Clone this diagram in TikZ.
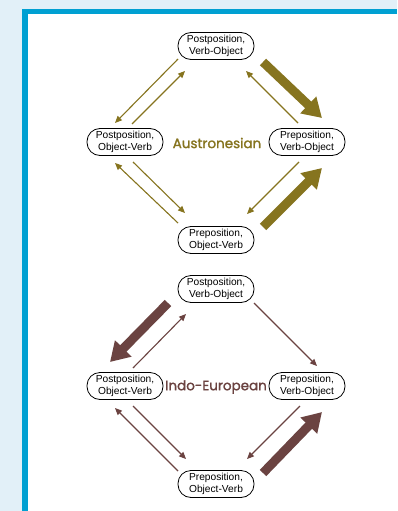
\documentclass[tikz,border=0pt]{standalone}
\usepackage{fontspec}
\setmainfont{Liberation Sans}
\newfontfamily\familyfont[FakeBold=1.5]{Poppins}
\usetikzlibrary{arrows.meta}

\definecolor{pageblue}{HTML}{E2F0F8}
\definecolor{frameblue}{HTML}{00A0D2}
\definecolor{austro}{HTML}{86741F}
\definecolor{indoeu}{HTML}{6B4341}

\tikzstyle{order}    = [draw=black, line width=0.8pt, fill=white, rounded corners=13pt, inner sep=0pt,
                        minimum width=76pt, minimum height=27pt, align=center,
                        font=\fontsize{10.2}{11.8}\selectfont]
\tikzstyle{family}   = [inner sep=0pt, font=\familyfont\fontsize{13.5}{15}\selectfont]
\tikzstyle{weak}     = [line width=1.1pt, -{Triangle[length=7pt,width=6pt]}]
\tikzstyle{strong}   = [line width=9pt, -{Triangle[length=19pt,width=22pt]}]

\begin{document}
\begin{tikzpicture}[x=1pt, y=-1pt]
  \useasboundingbox (0,0) rectangle (397,511);
  \fill[pageblue]  (0,0) rectangle (397,511);
  \fill[frameblue] (22,9) rectangle (397,511);
  \fill[white]     (28,14) rectangle (397,511);

  % Austronesian
  \node[order] (atop)   at (216,46)  {Postposition,\\Verb-Object};
  \node[order] (aleft)  at (125,142) {Postposition,\\Object-Verb};
  \node[order] (aright) at (307,142) {Preposition,\\Verb-Object};
  \node[order] (abot)   at (216,240) {Preposition,\\Object-Verb};
  \node[family, text=austro] (alabel) at (217,143) {Austronesian};

  \begin{scope}[draw=austro, color=austro]
    \draw[weak]   ([shift={(-38,13)}]atop.center)  -- ([shift={(-10,-19)}]aleft.center);
    \draw[weak]   ([shift={(7,-18)}]aleft.center)  -- ([shift={(-31,25)}]atop.center);
    \draw[strong] ([shift={(47,16)}]atop.center)   -- ([shift={(15,-24)}]aright.center);
    \draw[weak]   ([shift={(-9,-19)}]aright.center) -- ([shift={(30,25)}]atop.center);
    \draw[weak]   ([shift={(8,20)}]aleft.center)   -- ([shift={(-31,-27)}]abot.center);
    \draw[weak]   ([shift={(-38,-17)}]abot.center) -- ([shift={(-10,21)}]aleft.center);
    \draw[weak]   ([shift={(-8,20)}]aright.center) -- ([shift={(31,-26)}]abot.center);
    \draw[strong] ([shift={(47,-13)}]abot.center)  -- ([shift={(15,26)}]aright.center);
  \end{scope}

  % Indo-European
  \node[order] (itop)   at (216,289) {Postposition,\\Verb-Object};
  \node[order] (ileft)  at (125,386) {Postposition,\\Object-Verb};
  \node[order] (iright) at (307,386) {Preposition,\\Verb-Object};
  \node[order] (ibot)   at (216,484) {Preposition,\\Object-Verb};
  \node[family, text=indoeu] (ilabel) at (216,387) {Indo-European};

  \begin{scope}[draw=indoeu, color=indoeu]
    \draw[strong] ([shift={(-48,14)}]itop.center)  -- ([shift={(-15,-24)}]ileft.center);
    \draw[weak]   ([shift={(8,-18)}]ileft.center)  -- ([shift={(-30,25)}]itop.center);
    \draw[weak]   ([shift={(38,14)}]itop.center)   -- ([shift={(10,-20)}]iright.center);
    \draw[weak]   ([shift={(8,20)}]ileft.center)   -- ([shift={(-30,-25)}]ibot.center);
    \draw[weak]   ([shift={(-38,-13)}]ibot.center) -- ([shift={(-10,22)}]ileft.center);
    \draw[weak]   ([shift={(-7,20)}]iright.center) -- ([shift={(31,-25)}]ibot.center);
    \draw[strong] ([shift={(47,-11)}]ibot.center)  -- ([shift={(15,26)}]iright.center);
  \end{scope}
\end{tikzpicture}
\end{document}
